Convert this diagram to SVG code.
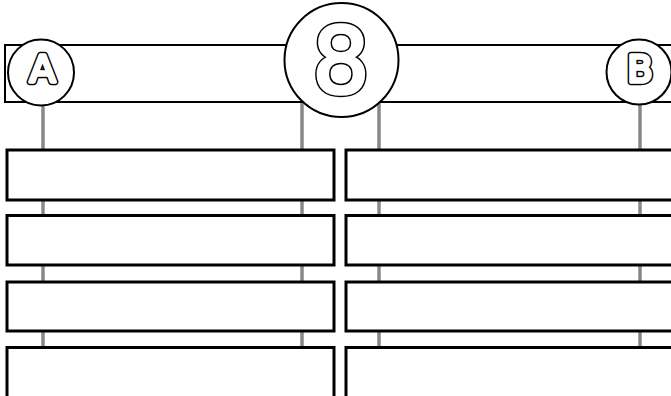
<svg xmlns="http://www.w3.org/2000/svg" width="671" height="396" viewBox="0 0 671 396">
<style>
.post{stroke:#888;stroke-width:3.5;fill:none}
.box{fill:#fff;stroke:#000;stroke-width:3}
.bar{fill:#fff;stroke:#000;stroke-width:2}
.ring{fill:#fff;stroke:#000;stroke-width:2}
.lbl{font-family:"DejaVu Sans","Liberation Sans",sans-serif;text-anchor:middle;stroke-linejoin:round}
.lo{fill:#fff;stroke:#000;stroke-width:6.5}
.li{fill:#fff;stroke:#fff;stroke-width:3.5}
</style>
<rect width="671" height="396" fill="#fff"/>
<g id="connectors">
<line class="post" x1="43" y1="102" x2="43" y2="396"/>
<line class="post" x1="302" y1="102" x2="302" y2="396"/>
<line class="post" x1="379" y1="102" x2="379" y2="396"/>
<line class="post" x1="640" y1="102" x2="640" y2="396"/>
</g>
<g id="bar"><rect class="bar" x="5" y="45" width="680" height="57"/></g>
<g id="nodeA"><circle class="ring" cx="41" cy="72.5" r="33"/><text class="lbl lo" x="42.5" y="82" font-size="38">A</text><text class="lbl li" x="42.5" y="82" font-size="38" aria-hidden="true">A</text></g>
<g id="node8"><circle class="ring" cx="341.5" cy="60" r="57"/><text class="lbl lo" x="341" y="93" font-size="90">8</text><text class="lbl li" x="341" y="93" font-size="90" aria-hidden="true">8</text></g>
<g id="nodeB"><circle class="ring" cx="639" cy="72" r="32.5"/><text class="lbl lo" x="640" y="81.5" font-size="37">B</text><text class="lbl li" x="640" y="81.5" font-size="37" aria-hidden="true">B</text></g>
<g id="boxL1"><rect class="box" x="7" y="150" width="327" height="50"/></g>
<g id="boxL2"><rect class="box" x="7" y="215.5" width="327" height="49.5"/></g>
<g id="boxL3"><rect class="box" x="7" y="282" width="327" height="49"/></g>
<g id="boxL4"><rect class="box" x="7" y="347.5" width="327" height="50"/></g>
<g id="boxR1"><rect class="box" x="346" y="150" width="340" height="50"/></g>
<g id="boxR2"><rect class="box" x="346" y="215.5" width="340" height="49.5"/></g>
<g id="boxR3"><rect class="box" x="346" y="282" width="340" height="49"/></g>
<g id="boxR4"><rect class="box" x="346" y="347.5" width="340" height="50"/></g>
</svg>
